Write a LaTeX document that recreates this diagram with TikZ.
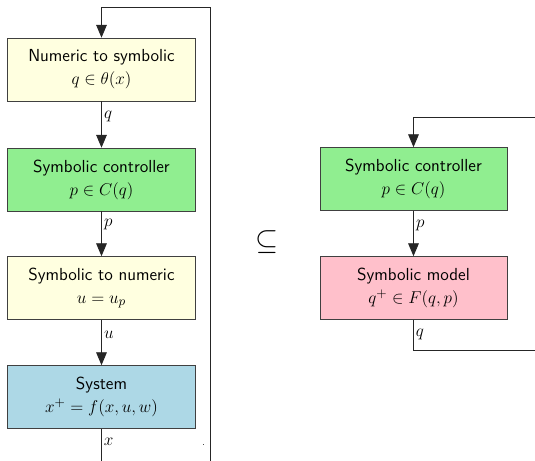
\documentclass[tikz,border=0pt]{standalone}
\usetikzlibrary{arrows.meta}
\definecolor{boxyellow}{HTML}{FFFFE0}
\definecolor{boxgreen}{HTML}{90EE90}
\definecolor{boxblue}{HTML}{ADD8E6}
\definecolor{boxpink}{HTML}{FFC0CB}
\begin{document}
\begin{tikzpicture}[x=0.7pt,y=-0.7pt,
  blk/.style={draw=black!75, line width=0.6pt, minimum width=131pt, minimum height=44pt, align=center, font=\sffamily\fontsize{12.2}{15}\selectfont, inner sep=0pt},
  flow/.style={draw=black!85, line width=0.6pt},
  arr/.style={flow, -{Triangle[length=9pt,width=7.5pt]}},
  lbl/.style={anchor=west, inner sep=1.5pt, font=\fontsize{12}{14}\selectfont}]
\useasboundingbox (0,0) rectangle (535,460);
% left chain
\node[blk, fill=boxyellow] (n2s) at (101.5,69.5) {Numeric to symbolic\\[1pt] $q\in\theta(x)$};
\node[blk, fill=boxgreen] (ctl) at (101.5,179.5) {Symbolic controller\\[1pt] $p\in C(q)$};
\node[blk, fill=boxyellow] (s2n) at (101.5,288) {Symbolic to numeric\\[1pt] $u=u_p$};
\node[blk, fill=boxblue] (sys) at (101.5,397) {System\\[1pt] $x^+=f(x,u,w)$};
\coordinate (ltop) at (101.5,7);
\coordinate (ltopr) at (210,7);
\coordinate (lbot) at (101.5,462);
\coordinate (lright) at (210,462);
\draw[flow] (lbot) -- (sys.south);
\draw[flow] (lright) -- (ltopr) -- (ltop);
\draw[arr] (ltop) -- (n2s.north);
\draw[arr] (n2s.south) -- node[lbl, pos=0.33] {$q$} (ctl.north);
\draw[arr] (ctl.south) -- node[lbl, pos=0.3] {$p$} (s2n.north);
\draw[arr] (s2n.south) -- node[lbl, pos=0.33] {$u$} (sys.north);
\node[lbl] (xl) at (101.5,442) {$x$};
\fill[black!70] (202.5,443.5) rectangle (204,445);
% subset
\node[font=\fontsize{21}{24}\selectfont] (sub) at (267,242) {$\subseteq$};
% right chain
\node[blk, fill=boxgreen] (ctl2) at (413.5,179) {Symbolic controller\\[1pt] $p\in C(q)$};
\node[blk, fill=boxpink] (mdl) at (413.5,288) {Symbolic model\\[1pt] $q^+\in F(q,p)$};
\coordinate (rtop) at (413.5,117);
\coordinate (rtopr) at (537,117);
\coordinate (rbot) at (413.5,350);
\coordinate (rbotr) at (537,350);
\draw[flow] (rtopr) -- (rtop);
\draw[arr] (rtop) -- (ctl2.north);
\draw[arr] (ctl2.south) -- node[lbl, pos=0.33] {$p$} (mdl.north);
\draw[flow] (mdl.south) -- (rbot) -- (rbotr);
\node[lbl] (ql) at (413.5,334) {$q$};
\end{tikzpicture}
\end{document}
